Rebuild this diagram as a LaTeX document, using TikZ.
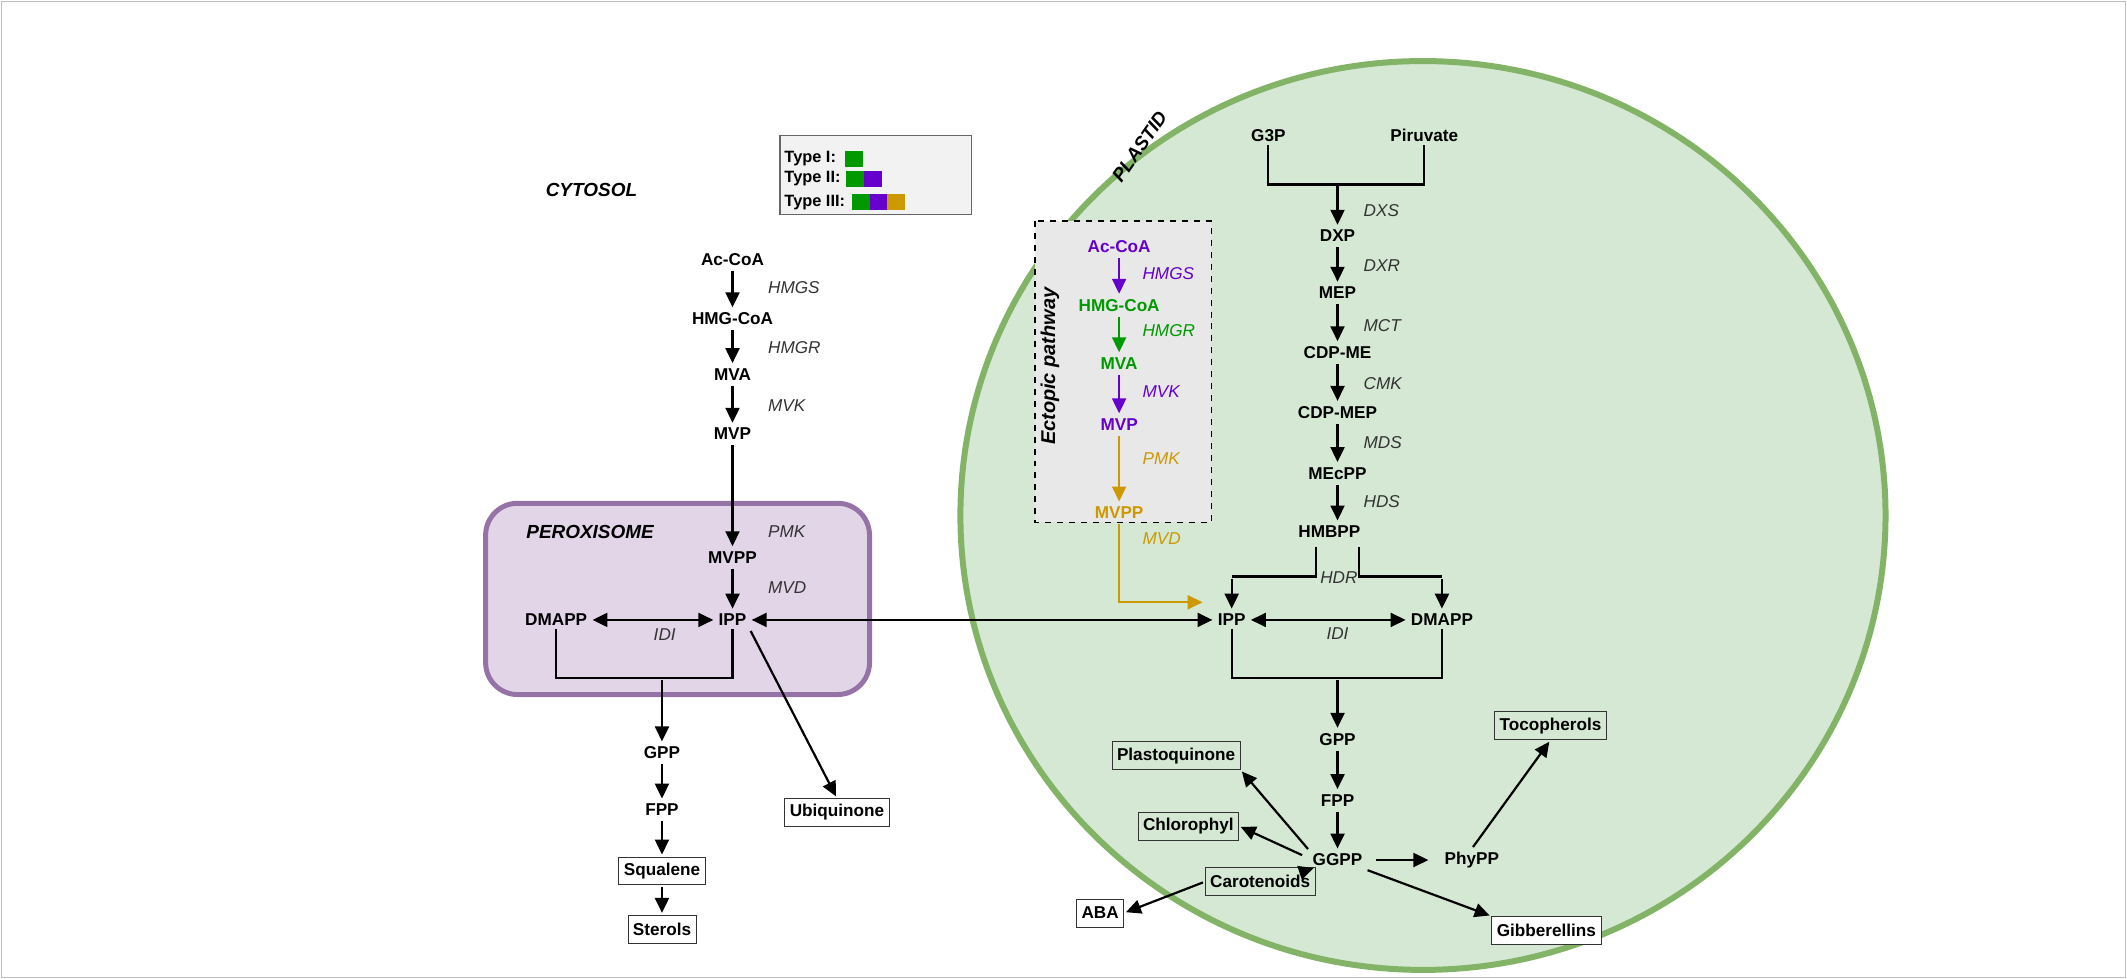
\documentclass[tikz,border=0pt]{standalone}
\usepackage{fontspec}
\setmainfont{Liberation Sans}
\usetikzlibrary{arrows.meta,calc}
\definecolor{plfill}{HTML}{D5E8D4}\definecolor{plline}{HTML}{82B366}
\definecolor{pxfill}{HTML}{E1D5E7}\definecolor{pxline}{HTML}{9673A6}
\definecolor{ggreen}{HTML}{009900}\definecolor{gpurple}{HTML}{6600CC}\definecolor{ggold}{HTML}{CC9900}
\definecolor{enz}{HTML}{333333}
\tikzset{
 met/.style={font=\fontsize{8.6}{10}\selectfont\bfseries,inner sep=1.5pt},
 legt/.style={font=\fontsize{8.2}{10}\selectfont\bfseries,inner sep=0pt,anchor=west},
 enzl/.style={font=\fontsize{8.6}{10}\selectfont\itshape,text=enz,anchor=west,inner sep=0pt},
 prod/.style={met,draw=black!80,fill=white,minimum height=14pt,inner sep=2.5pt},
 prodg/.style={prod,fill=plfill},
 arr/.style={line width=1.1pt,shorten >=1pt,shorten <=1pt,-{Triangle[length=7.5pt,width=7pt]}},
 darr/.style={line width=1.1pt,shorten >=1pt,shorten <=1pt,{Triangle[length=7.5pt,width=7pt]}-{Triangle[length=7.5pt,width=7pt]}},
 ln/.style={line width=1.1pt},
 title/.style={font=\fontsize{9.5}{11}\selectfont\bfseries\itshape},
}
\begin{document}
\begin{tikzpicture}[x=0.68pt,y=-0.68pt]
\useasboundingbox (0,0) rectangle (1568,721.7);
\draw[black!25,line width=0.6pt] (1,1) rectangle (1567,720.7);
% plastid
\draw[fill=plfill,draw=plline,line width=3pt] (1049,380) ellipse [x radius=341,y radius=335];
\node[title,rotate=55] (plt) at (840,108) {PLASTID};
% peroxisome
\draw[fill=pxfill,draw=pxline,line width=2.5pt,rounded corners=16pt] (358,371) rectangle (641,512);
\node[title] (pxt) at (435,392) {PEROXISOME};
\node[title] (cyt) at (436,140) {CYTOSOL};
% legend
\draw[fill=black!5,draw=black!60,line width=0.6pt] (575,100) rectangle (716,158);
\node[legt] (l1) at (578,117) {Type I:};
\node[legt] (l2) at (578,132) {Type II:};
\node[legt] (l3) at (578,149) {Type III:};
\fill[ggreen] (623,111) rectangle (636,123);
\fill[ggreen] (624,126) rectangle (637,138);
\fill[gpurple] (637,126) rectangle (650,138);
\fill[ggreen] (628,143) rectangle (641,155);
\fill[gpurple] (641,143) rectangle (654,155);
\fill[ggold] (654,143) rectangle (667,155);
% ectopic box
\draw[fill=black!9,dashed,line width=0.7pt] (763,163) rectangle (893,385);
\node[font=\fontsize{10}{12}\selectfont\bfseries\itshape,rotate=90] (ect) at (774,270) {Ectopic pathway};
% left chain
\node[met] (aca) at (540,191) {Ac-CoA};
\node[met] (hmg) at (540,235) {HMG-CoA};
\node[met] (mva) at (540,276) {MVA};
\node[met] (mvp) at (540,320) {MVP};
\node[met] (mvpp) at (540,411) {MVPP};
\node[met] (ipp) at (540,457) {IPP};
\node[met] (dma) at (410,457) {DMAPP};
\draw[arr] (aca) -- (hmg); \node[enzl] at (566,212) {HMGS};
\draw[arr] (hmg) -- (mva); \node[enzl] at (566,256) {HMGR};
\draw[arr] (mva) -- (mvp); \node[enzl] at (566,299) {MVK};
\draw[arr] (mvp) -- (mvpp); \node[enzl] at (566,392) {PMK};
\draw[arr] (mvpp) -- (ipp); \node[enzl] at (566,433) {MVD};
\draw[darr] (dma) -- (ipp); \node[enzl,anchor=center] at (490,468) {IDI};
\coordinate (lb) at (488,500);
\draw[ln] (dma.south) -- (dma.south |- lb) -- (ipp.south |- lb) -- (ipp.south);
\node[met] (gppl) at (488,555) {GPP};
\node[met] (fppl) at (488,597) {FPP};
\node[prod] (squ) at (488,642) {Squalene};
\node[prod] (ste) at (488,685) {Sterols};
\node[prod] (ubi) at (617,599) {Ubiquinone};
\draw[arr] (lb) -- (gppl);
\draw[arr] (gppl) -- (fppl);
\draw[arr] (fppl) -- (squ);
\draw[arr] (squ) -- (ste);
\draw[arr] (ipp.south east) -- (ubi.north);
% plastid chain
\node[met] (g3p) at (935,100) {G3P};
\node[met] (pir) at (1050,100) {Piruvate};
\coordinate (pb) at (986,136);
\draw[ln] (g3p.south) -- (g3p.south |- pb) -- (pir.south |- pb) -- (pir.south);
\node[met] (dxp) at (986,174) {DXP};
\node[met] (mep) at (986,216) {MEP};
\node[met] (cdpme) at (986,260) {CDP-ME};
\node[met] (cdpmep) at (986,304) {CDP-MEP};
\node[met] (mecpp) at (986,349) {MEcPP};
\node[met] (hmbpp) at (980,392) {HMBPP};
\draw[arr] (pb) -- (dxp); \node[enzl] at (1005,155) {DXS};
\draw[arr] (dxp) -- (mep); \node[enzl] at (1005,196) {DXR};
\draw[arr] (mep) -- (cdpme); \node[enzl] at (1005,240) {MCT};
\draw[arr] (cdpme) -- (cdpmep); \node[enzl] at (1005,283) {CMK};
\draw[arr] (cdpmep) -- (mecpp); \node[enzl] at (1005,326) {MDS};
\draw[arr] (mecpp) -- (hmbpp.north -| mecpp); \node[enzl] at (1005,370) {HDS};
\node[met] (ippr) at (908,457) {IPP};
\node[met] (dmar) at (1063,457) {DMAPP};
\coordinate (h1) at (970,403); \coordinate (h2) at (1002,403);
\draw[ln] (h1) -- (970,425) -- (908,425);
\draw[arr] (908,425) -- (ippr);
\draw[ln] (h2) -- (1002,425) -- (1063,425);
\draw[arr] (1063,425) -- (dmar);
\node[enzl,anchor=center] at (987,426) {HDR};
\draw[darr] (ippr) -- (dmar); \node[enzl,anchor=center] at (986,467) {IDI};
\draw[darr] (ipp) -- (ippr);
\coordinate (rb) at (986,500);
\draw[ln] (ippr.south) -- (ippr.south |- rb) -- (dmar.south |- rb) -- (dmar.south);
\node[met] (gppr) at (986,545) {GPP};
\node[met] (fppr) at (986,590) {FPP};
\node[met] (ggpp) at (986,634) {GGPP};
\node[met] (phypp) at (1085,634) {PhyPP};
\draw[arr] (rb) -- (gppr);
\draw[arr] (gppr) -- (fppr);
\draw[arr] (fppr) -- (ggpp);
\draw[arr] ($(ggpp.east)+(6,0)$) -- ($(phypp.west)+(-8,0)$);
\node[prodg] (toc) at (1143,535) {Tocopherols};
\node[prodg] (plq) at (867,557) {Plastoquinone};
\node[prodg] (chl) at (876,609) {Chlorophyl};
\node[prodg] (car) at (929,650) {Carotenoids};
\node[prod] (aba) at (811,673) {ABA};
\node[prod] (gib) at (1140,686) {Gibberellins};
\draw[arr] (phypp.north) -- (toc.south);
\draw[arr] (ggpp.north west) -- (plq.south east);
\draw[arr] ($(ggpp.west)+(-4,-3)$) -- (chl.east);
\draw[arr] (ggpp.south west) -- (car.north east);
\draw[arr] (car.west) -- (aba.east);
\draw[arr] (ggpp.south east) -- (gib.north west);
% ectopic chain
\node[met,text=gpurple] (eac) at (825,182) {Ac-CoA};
\node[met,text=ggreen] (ehm) at (825,225) {HMG-CoA};
\node[met,text=ggreen] (emva) at (825,268) {MVA};
\node[met,text=gpurple] (emvp) at (825,313) {MVP};
\node[met,text=ggold] (emvpp) at (825,378) {MVPP};
\draw[arr,gpurple] (eac) -- (ehm); \node[enzl,text=gpurple] at (842,202) {HMGS};
\draw[arr,ggreen] (ehm) -- (emva); \node[enzl,text=ggreen] at (842,244) {HMGR};
\draw[arr,gpurple] (emva) -- (emvp); \node[enzl,text=gpurple] at (842,289) {MVK};
\draw[arr,ggold] (emvp) -- (emvpp); \node[enzl,text=ggold] at (842,338) {PMK};
\node[enzl,text=ggold] at (842,397) {MVD};
\coordinate (eg) at (888,444);
\draw[arr,ggold] (emvpp.south) -- (emvpp.south |- eg) -- (eg);
\end{tikzpicture}
\end{document}
